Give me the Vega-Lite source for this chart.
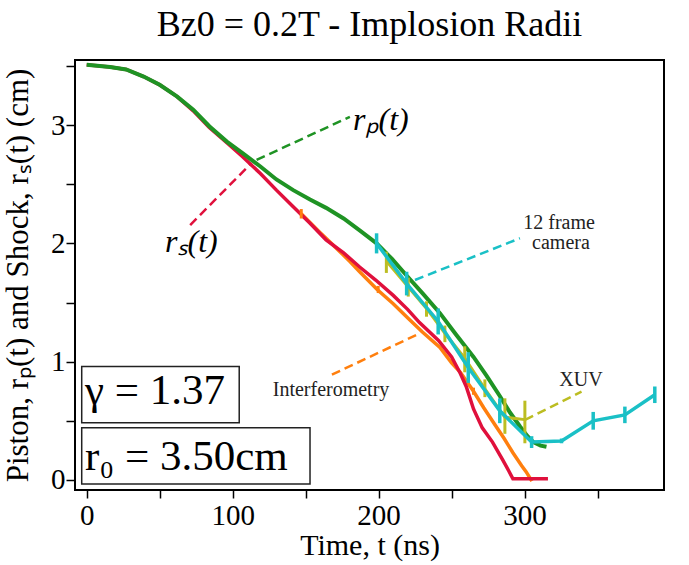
{
  "$schema": "https://vega.github.io/schema/vega-lite/v6.json",
  "width": 589,
  "height": 430,
  "autosize": {"type": "none"},
  "padding": {"left": 75, "top": 60, "right": 25, "bottom": 75},
  "background": "white",
  "title": {"text": "Bz0 = 0.2T - Implosion Radii", "font": "Liberation Serif", "fontSize": 36, "fontWeight": "normal", "color": "black", "anchor": "middle", "baseline": "alphabetic", "offset": -20},
  "config": {"view": {"stroke": "black", "strokeWidth": 2}},
  "datasets": {
    "curves": [
      {"series": "Shock", "t": 0, "r": 3.51}, {"series": "Shock", "t": 16, "r": 3.49}, {"series": "Shock", "t": 27, "r": 3.47}, {"series": "Shock", "t": 39, "r": 3.41}, {"series": "Shock", "t": 50, "r": 3.34}, {"series": "Shock", "t": 62, "r": 3.24}, {"series": "Shock", "t": 73, "r": 3.12}, {"series": "Shock", "t": 84, "r": 2.98}, {"series": "Shock", "t": 96, "r": 2.85}, {"series": "Shock", "t": 107, "r": 2.73}, {"series": "Shock", "t": 119, "r": 2.59}, {"series": "Shock", "t": 130, "r": 2.45}, {"series": "Shock", "t": 141.5, "r": 2.31}, {"series": "Shock", "t": 153, "r": 2.17}, {"series": "Shock", "t": 164, "r": 2.03}, {"series": "Shock", "t": 176, "r": 1.92}, {"series": "Shock", "t": 187, "r": 1.8}, {"series": "Shock", "t": 198, "r": 1.69}, {"series": "Shock", "t": 210, "r": 1.56}, {"series": "Shock", "t": 220, "r": 1.44}, {"series": "Shock", "t": 228, "r": 1.33}, {"series": "Shock", "t": 241, "r": 1.18}, {"series": "Shock", "t": 250, "r": 1.04}, {"series": "Shock", "t": 256, "r": 0.9}, {"series": "Shock", "t": 260, "r": 0.79}, {"series": "Shock", "t": 265, "r": 0.6}, {"series": "Shock", "t": 271, "r": 0.44}, {"series": "Shock", "t": 278, "r": 0.32}, {"series": "Shock", "t": 285, "r": 0.17}, {"series": "Shock", "t": 289, "r": 0.08}, {"series": "Shock", "t": 292, "r": 0.01}, {"series": "Shock", "t": 316, "r": 0.01},
      {"series": "Piston", "t": 0, "r": 3.51}, {"series": "Piston", "t": 16, "r": 3.49}, {"series": "Piston", "t": 27, "r": 3.47}, {"series": "Piston", "t": 39, "r": 3.41}, {"series": "Piston", "t": 50, "r": 3.34}, {"series": "Piston", "t": 62, "r": 3.24}, {"series": "Piston", "t": 73, "r": 3.13}, {"series": "Piston", "t": 84, "r": 2.99}, {"series": "Piston", "t": 96, "r": 2.86}, {"series": "Piston", "t": 107, "r": 2.76}, {"series": "Piston", "t": 119, "r": 2.65}, {"series": "Piston", "t": 130, "r": 2.54}, {"series": "Piston", "t": 141.5, "r": 2.45}, {"series": "Piston", "t": 153, "r": 2.37}, {"series": "Piston", "t": 164, "r": 2.3}, {"series": "Piston", "t": 176, "r": 2.21}, {"series": "Piston", "t": 187, "r": 2.11}, {"series": "Piston", "t": 198.6, "r": 2.0}, {"series": "Piston", "t": 209, "r": 1.87}, {"series": "Piston", "t": 219, "r": 1.73}, {"series": "Piston", "t": 230, "r": 1.58}, {"series": "Piston", "t": 242, "r": 1.41}, {"series": "Piston", "t": 253, "r": 1.23}, {"series": "Piston", "t": 265, "r": 1.04}, {"series": "Piston", "t": 274, "r": 0.88}, {"series": "Piston", "t": 283, "r": 0.71}, {"series": "Piston", "t": 290, "r": 0.57}, {"series": "Piston", "t": 297, "r": 0.45}, {"series": "Piston", "t": 302, "r": 0.37}, {"series": "Piston", "t": 306, "r": 0.32}, {"series": "Piston", "t": 311, "r": 0.29}, {"series": "Piston", "t": 315, "r": 0.28},
      {"series": "Interferometry", "t": 147, "r": 2.25}, {"series": "Interferometry", "t": 160, "r": 2.09}, {"series": "Interferometry", "t": 173.5, "r": 1.93}, {"series": "Interferometry", "t": 180, "r": 1.85}, {"series": "Interferometry", "t": 187, "r": 1.76}, {"series": "Interferometry", "t": 199, "r": 1.61}, {"series": "Interferometry", "t": 210, "r": 1.49}, {"series": "Interferometry", "t": 220, "r": 1.37}, {"series": "Interferometry", "t": 230, "r": 1.25}, {"series": "Interferometry", "t": 242, "r": 1.12}, {"series": "Interferometry", "t": 250, "r": 0.99}, {"series": "Interferometry", "t": 256, "r": 0.91}, {"series": "Interferometry", "t": 265, "r": 0.75}, {"series": "Interferometry", "t": 272, "r": 0.61}, {"series": "Interferometry", "t": 279, "r": 0.48}, {"series": "Interferometry", "t": 286, "r": 0.35}, {"series": "Interferometry", "t": 292, "r": 0.23}, {"series": "Interferometry", "t": 298, "r": 0.12}, {"series": "Interferometry", "t": 301, "r": 0.07}, {"series": "Interferometry", "t": 305, "r": -0.01},
      {"series": "Camera", "t": 198.6, "r": 2.0}, {"series": "Camera", "t": 219.2, "r": 1.66}, {"series": "Camera", "t": 240.8, "r": 1.34}, {"series": "Camera", "t": 261.4, "r": 0.95}, {"series": "Camera", "t": 283, "r": 0.585}, {"series": "Camera", "t": 304.8, "r": 0.32}, {"series": "Camera", "t": 325.3, "r": 0.33}, {"series": "Camera", "t": 347, "r": 0.5}, {"series": "Camera", "t": 368.7, "r": 0.55}, {"series": "Camera", "t": 389.2, "r": 0.72},
      {"series": "XUV", "t": 205.3, "r": 1.85}, {"series": "XUV", "t": 220.3, "r": 1.63}, {"series": "XUV", "t": 232.8, "r": 1.45}, {"series": "XUV", "t": 245.4, "r": 1.24}, {"series": "XUV", "t": 259, "r": 1.03}, {"series": "XUV", "t": 272.8, "r": 0.77}, {"series": "XUV", "t": 286.5, "r": 0.53}, {"series": "XUV", "t": 300.2, "r": 0.51}
    ],
    "errors": [
      {"series": "Camera", "t": 198.6, "r": 1.915, "r2": 2.085}, {"series": "Camera", "t": 219.2, "r": 1.56, "r2": 1.76}, {"series": "Camera", "t": 240.8, "r": 1.23, "r2": 1.45}, {"series": "Camera", "t": 261.4, "r": 0.82, "r2": 1.08}, {"series": "Camera", "t": 283, "r": 0.48, "r2": 0.69}, {"series": "Camera", "t": 304.8, "r": 0.27, "r2": 0.37}, {"series": "Camera", "t": 325.3, "r": 0.31, "r2": 0.35}, {"series": "Camera", "t": 347, "r": 0.425, "r2": 0.575}, {"series": "Camera", "t": 368.7, "r": 0.48, "r2": 0.62}, {"series": "Camera", "t": 389.2, "r": 0.65, "r2": 0.79},
      {"series": "XUV", "t": 205.3, "r": 1.75, "r2": 1.93}, {"series": "XUV", "t": 220.3, "r": 1.55, "r2": 1.71}, {"series": "XUV", "t": 232.8, "r": 1.38, "r2": 1.51}, {"series": "XUV", "t": 245.4, "r": 1.165, "r2": 1.305}, {"series": "XUV", "t": 259, "r": 0.91, "r2": 1.13}, {"series": "XUV", "t": 272.8, "r": 0.7, "r2": 0.85}, {"series": "XUV", "t": 286.5, "r": 0.39, "r2": 0.69}, {"series": "XUV", "t": 300.2, "r": 0.31, "r2": 0.67},
      {"series": "Interferometry", "t": 147, "r": 2.21, "r2": 2.29}, {"series": "Interferometry", "t": 199.7, "r": 1.58, "r2": 1.64}, {"series": "Interferometry", "t": 265, "r": 0.72, "r2": 0.78}
    ],
    "leaders": [
      {"series": "Piston", "t": 116.4, "r": 2.705}, {"series": "Piston", "t": 180.3, "r": 3.07},
      {"series": "Shock", "t": 70.9, "r": 2.155}, {"series": "Shock", "t": 113, "r": 2.68},
      {"series": "Camera", "t": 224.9, "r": 1.69}, {"series": "Camera", "t": 296.8, "r": 2.043},
      {"series": "Interferometry", "t": 168, "r": 0.89}, {"series": "Interferometry", "t": 228.3, "r": 1.24},
      {"series": "XUV", "t": 300.3, "r": 0.507}, {"series": "XUV", "t": 339, "r": 0.746}
    ],
    "mathLabels": [
      {"text": "rₚ(t)", "t": 182.5, "r": 3.04},
      {"text": "rₛ(t)", "t": 53.7, "r": 2.01}
    ],
    "noteLabels": [
      {"text": "12 frame", "t": 323.6, "r": 2.175},
      {"text": "camera", "t": 324.9, "r": 2.005},
      {"text": "Interferometry", "t": 167.4, "r": 0.76},
      {"text": "XUV", "t": 338.6, "r": 0.845}
    ],
    "boxes": [
      {"label": "gamma", "t": -3.4, "t2": 104.5, "r": 0.484, "r2": 0.958},
      {"label": "radius", "t": -3.4, "t2": 153, "r": -0.034, "r2": 0.442}
    ],
    "boxLabels": [
      {"text": "γ = 1.37", "t": -1.2, "r": 0.755},
      {"text": "r₀ = 3.50cm", "t": -1.2, "r": 0.197}
    ]
  },
  "encoding": {
    "x": {"field": "t", "type": "quantitative", "scale": {"domain": [-8, 395.5], "nice": false, "zero": false},
      "axis": {"title": "Time, t (ns)", "values": [0, 50, 100, 150, 200, 250, 300, 350], "labelExpr": "datum.value % 100 === 0 ? datum.label : ''", "grid": false, "domain": false, "tickSize": 8, "tickWidth": 1.5, "tickColor": "black", "labelFont": "Liberation Serif", "labelFontSize": 29, "labelColor": "black", "labelPadding": 3, "labelOverlap": false, "labelFlush": false, "titleFont": "Liberation Serif", "titleFontSize": 30, "titleFontWeight": "normal", "titleColor": "black", "titlePadding": 0}},
    "y": {"field": "r", "type": "quantitative", "scale": {"domain": [-0.085, 3.55], "nice": false, "zero": false},
      "axis": {"title": "Piston, rₚ(t) and Shock, rₛ(t) (cm)", "values": [0, 0.5, 1, 1.5, 2, 2.5, 3, 3.5], "labelExpr": "datum.value % 1 === 0 ? format(datum.value, 'd') : ''", "grid": false, "domain": false, "tickSize": 9, "tickWidth": 1.5, "tickColor": "black", "labelFont": "Liberation Serif", "labelFontSize": 29, "labelColor": "black", "labelPadding": 1, "labelOverlap": false, "labelFlush": false, "titleFont": "Liberation Serif", "titleFontSize": 31, "titleFontWeight": "normal", "titleColor": "black", "titlePadding": 16}}
  },
  "layer": [
    {
      "data": {"name": "curves"},
      "transform": [{"filter": "datum.series === 'Interferometry'"}],
      "mark": {"type": "line", "color": "#ff7f0e", "strokeWidth": 3.5}
    },
    {
      "data": {"name": "curves"},
      "transform": [{"filter": "datum.series === 'Shock'"}],
      "mark": {"type": "line", "color": "#e0103c", "strokeWidth": 3.5}
    },
    {
      "data": {"name": "curves"},
      "transform": [{"filter": "datum.series === 'Piston'"}],
      "mark": {"type": "line", "color": "#1f9324", "strokeWidth": 4}
    },
    {
      "data": {"name": "curves"},
      "transform": [{"filter": "datum.series === 'XUV'"}],
      "mark": {"type": "line", "color": "#bcbd22", "strokeWidth": 3}
    },
    {
      "data": {"name": "errors"},
      "transform": [{"filter": "datum.series === 'XUV'"}],
      "mark": {"type": "rule", "color": "#bcbd22", "strokeWidth": 3},
      "encoding": {"y2": {"field": "r2"}}
    },
    {
      "data": {"name": "errors"},
      "transform": [{"filter": "datum.series === 'Interferometry'"}],
      "mark": {"type": "rule", "color": "#ff7f0e", "strokeWidth": 3},
      "encoding": {"y2": {"field": "r2"}}
    },
    {
      "data": {"name": "curves"},
      "transform": [{"filter": "datum.series === 'Camera'"}],
      "mark": {"type": "line", "color": "#1ac0c6", "strokeWidth": 3.5}
    },
    {
      "data": {"name": "errors"},
      "transform": [{"filter": "datum.series === 'Camera'"}],
      "mark": {"type": "rule", "color": "#1ac0c6", "strokeWidth": 3.5},
      "encoding": {"y2": {"field": "r2"}}
    },
    {
      "data": {"name": "leaders"},
      "mark": {"type": "line", "strokeWidth": 2.5, "strokeDash": [9, 5]},
      "encoding": {
        "color": {"field": "series", "type": "nominal", "scale": {"domain": ["Shock", "Piston", "Interferometry", "Camera", "XUV"], "range": ["#e0103c", "#1f9324", "#ff7f0e", "#1ac0c6", "#bcbd22"]}, "legend": null}
      }
    },
    {
      "data": {"name": "mathLabels"},
      "mark": {"type": "text", "font": "Liberation Serif", "fontStyle": "italic", "fontSize": 32, "align": "left", "baseline": "middle", "color": "black"},
      "encoding": {"text": {"field": "text"}}
    },
    {
      "data": {"name": "noteLabels"},
      "mark": {"type": "text", "font": "Liberation Serif", "fontSize": 20, "align": "center", "baseline": "middle", "color": "#222222"},
      "encoding": {"text": {"field": "text"}}
    },
    {
      "data": {"name": "boxes"},
      "mark": {"type": "rect", "fill": "white", "stroke": "#222222", "strokeWidth": 1.5},
      "encoding": {"x2": {"field": "t2"}, "y2": {"field": "r2"}}
    },
    {
      "data": {"name": "boxLabels"},
      "mark": {"type": "text", "font": "Liberation Serif", "fontSize": 43, "align": "left", "baseline": "middle", "color": "black"},
      "encoding": {"text": {"field": "text"}}
    }
  ]
}
